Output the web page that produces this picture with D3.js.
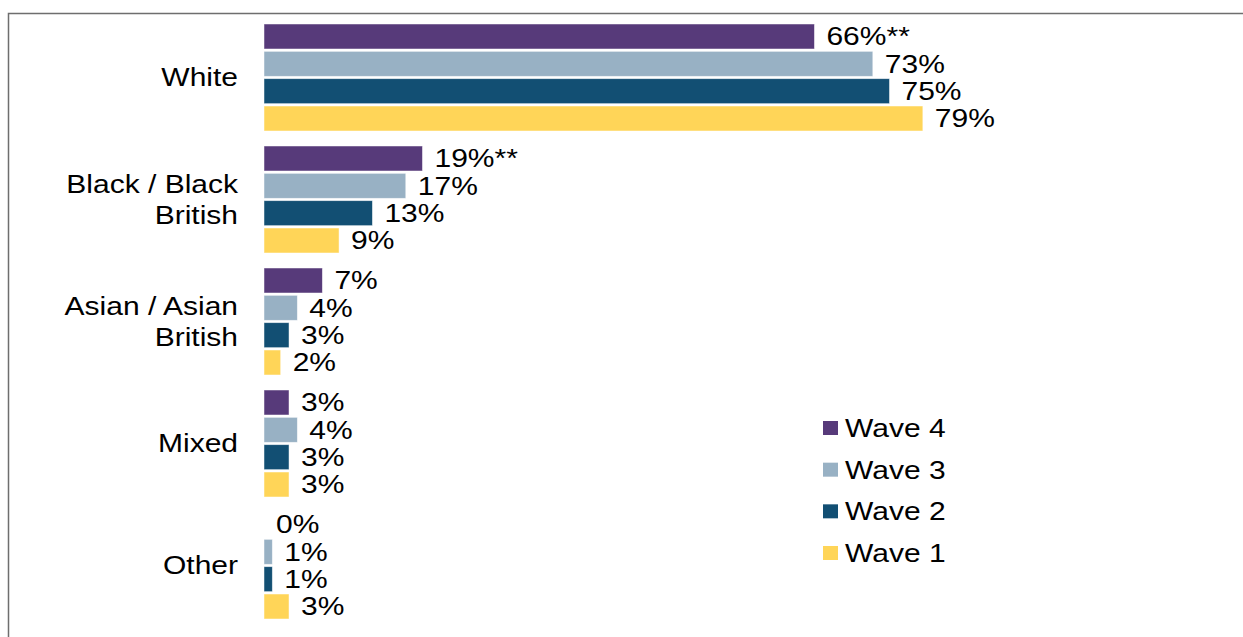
<!DOCTYPE html>
<html>
<head>
<meta charset="utf-8">
<script src="https://cdn.jsdelivr.net/npm/d3@7"></script>
<style>
  html, body { margin: 0; padding: 0; background: #fff; }
  svg { display: block; }
  text { font-family: "Liberation Sans", Arial, sans-serif; fill: #000; }
</style>
</head>
<body>
<svg id="chart" width="1243" height="637"></svg>
<script>
// ---- data ----
const categories = ["White", "Black / Black British", "Asian / Asian British", "Mixed", "Other"];
const categoryLines = [["White"], ["Black / Black", "British"], ["Asian / Asian", "British"], ["Mixed"], ["Other"]];
const seriesNames = ["Wave 4", "Wave 3", "Wave 2", "Wave 1"];
const wave4 = [66, 19, 7, 3, 0];
const wave3 = [73, 17, 4, 4, 1];
const wave2 = [75, 13, 3, 3, 1];
const wave1 = [79, 9, 2, 3, 3];
const wave4Suffix = ["**", "**", "", "", ""];
const seriesColors = ["#573a7a", "#98b1c4", "#124f73", "#ffd558"];

const seriesValues = [wave4, wave3, wave2, wave1];
const seriesSuffix = [wave4Suffix, ["", "", "", "", ""], ["", "", "", "", ""], ["", "", "", "", ""]];

// ---- layout ----
const svg = d3.select("#chart");
const SX = 1.2;      // horizontal text stretch seen in the reference
const FS = 25;

// border
svg.append("rect")
  .attr("x", 8.5).attr("y", 13.5)
  .attr("width", 1260).attr("height", 660)
  .attr("fill", "none").attr("stroke", "#6e6e6e").attr("stroke-width", 1.5);

const x = d3.scaleLinear().domain([0, 100]).range([264, 264 + 834]);
const yGroup = d3.scaleBand().domain(categories).range([24, 619]).paddingInner(15 / 122).paddingOuter(0);
const yInner = d3.scaleBand().domain(seriesNames).range([0, yGroup.bandwidth()]).paddingInner(0.0854).paddingOuter(0);

function stretchedText(sel, tx, ty, str, anchor) {
  return sel.append("text")
    .attr("transform", `translate(${tx},${ty}) scale(${SX},1)`)
    .attr("text-anchor", anchor || "start")
    .attr("font-size", FS)
    .text(str);
}

// category labels
categories.forEach((c, i) => {
  const cy = yGroup(c) + yGroup.bandwidth() / 2;
  const lines = categoryLines[i];
  const lh = 31;
  lines.forEach((ln, j) => {
    const off = (j - (lines.length - 1) / 2) * lh;
    stretchedText(svg, 238, cy + off + 8.8, ln, "end");
  });
});

// bars
const gBars = svg.append("g");
seriesNames.forEach((s, si) => {
  categories.forEach((c, ci) => {
    const v = seriesValues[si][ci];
    const y0 = yGroup(c) + yInner(s);
    const h = yInner.bandwidth();
    if (v > 0) {
      gBars.append("rect")
        .attr("x", x(0))
        .attr("y", y0)
        .attr("width", x(v) - x(0))
        .attr("height", h)
        .attr("fill", seriesColors[si])
        .attr("stroke", "#ffffff")
        .attr("stroke-opacity", 0.6)
        .attr("stroke-width", 0.8);
    }
    stretchedText(gBars, x(v) + 12, y0 + h / 2 + 8.8, v + "%" + seriesSuffix[si][ci], "start");
  });
});

// legend
const legendY = d3.scalePoint().domain(seriesNames).range([428, 553]);
const gLeg = svg.append("g");
seriesNames.forEach((s, si) => {
  const cy = legendY(s);
  gLeg.append("rect")
    .attr("x", 823).attr("y", cy - 7)
    .attr("width", 15).attr("height", 14)
    .attr("fill", seriesColors[si]);
  stretchedText(gLeg, 845, cy + 9, s, "start");
});
</script>
</body>
</html>
